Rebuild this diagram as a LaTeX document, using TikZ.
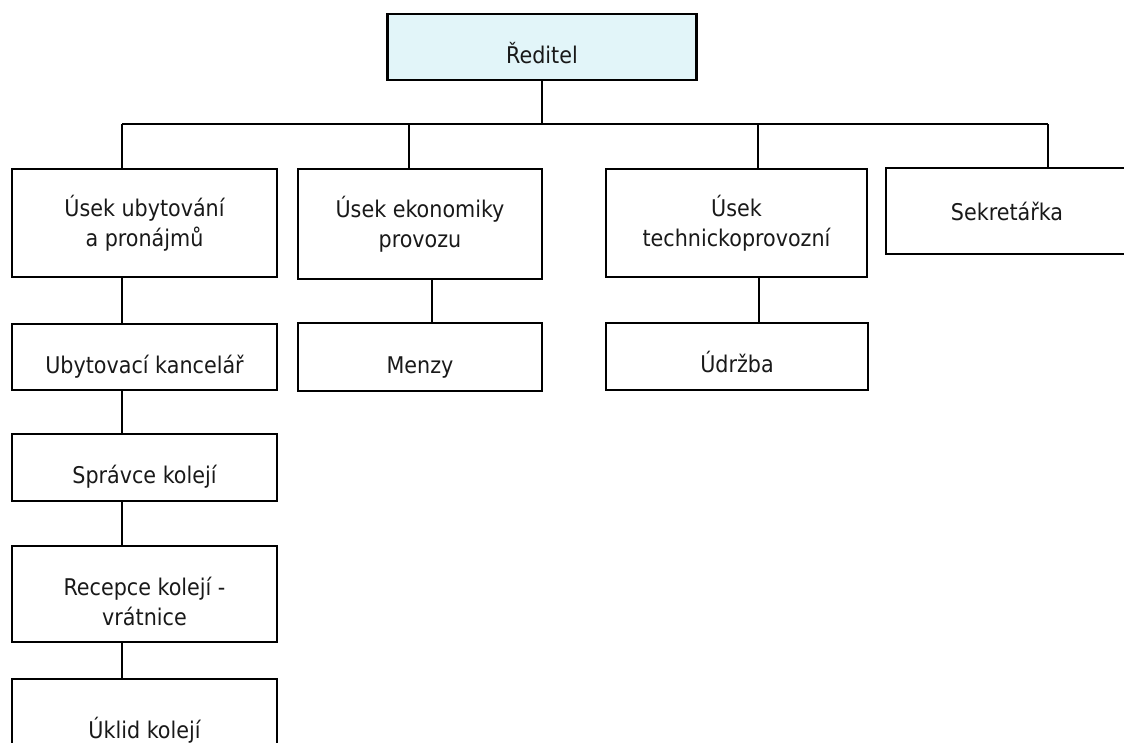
\documentclass[tikz,border=0pt]{standalone}
\usepackage{fontspec}
\setmainfont{DejaVu Sans Condensed}
\usepackage{tikz}
\usetikzlibrary{calc}

\definecolor{headfill}{RGB}{226,245,249}

\begin{document}
\begin{tikzpicture}[x=1pt, y=-1pt,
	unit/.style = {draw, line width=2.2pt, align=center, inner sep=0pt,
		font=\fontsize{23}{30}\selectfont, text=black!90},
	oneline/.style = {text height=32pt, text depth=0pt},
	link/.style = {line width=2.2pt}]

\useasboundingbox (0, 0) rectangle (1124, 742);
\clip (0, 0) rectangle (1124, 742);

\node[unit, oneline, fill=headfill, minimum width=309pt, minimum height=66pt]
	(dir) at (542, 47) {Ředitel};

\node[unit, minimum width=265pt, minimum height=108pt]
	(ubyt) at (144.5, 223) {Úsek ubytování\\a pronájmů};
\node[unit, minimum width=244pt, minimum height=110pt]
	(ekon) at (420, 224) {Úsek ekonomiky\\provozu};
\node[unit, minimum width=261pt, minimum height=108pt]
	(tech) at (736.5, 223) {Úsek\\technickoprovozní};
\node[unit, minimum width=242pt, minimum height=86pt]
	(sekr) at (1007, 211) {Sekretářka};

\node[unit, oneline, minimum width=265pt, minimum height=66pt]
	(kanc) at (144.5, 357) {Ubytovací kancelář};
\node[unit, oneline, minimum width=244pt, minimum height=68pt]
	(menzy) at (420, 357) {Menzy};
\node[unit, oneline, minimum width=262pt, minimum height=67pt]
	(udrz) at (737, 356.5) {Údržba};

\node[unit, oneline, minimum width=265pt, minimum height=67pt]
	(sprav) at (144.5, 467.5) {Správce kolejí};
\node[unit, minimum width=265pt, minimum height=96pt]
	(recep) at (144.5, 594)
	{\raisebox{-17pt}[0pt][0pt]{\begin{tabular}{@{}c@{}}Recepce kolejí -\\vrátnice\end{tabular}}};
\node[unit, minimum width=265pt, minimum height=102pt]
	(uklid) at (144.5, 730) {Úklid kolejí};

\coordinate (b1) at (122, 124);
\coordinate (b2) at (409, 124);
\coordinate (b3) at (758, 124);
\coordinate (b4) at (1048, 124);
\coordinate (c2) at (432, 0);
\coordinate (c3) at (759, 0);

\draw[link] (dir.south) -- (dir.south |- b1);
\draw[link] (b1) -- (b4);

\draw[link] (b1) -- (b1 |- ubyt.north);
\draw[link] (b2) -- (b2 |- ekon.north);
\draw[link] (b3) -- (b3 |- tech.north);
\draw[link] (b4) -- (b4 |- sekr.north);

\draw[link] (ubyt.south -| b1) -- (kanc.north -| b1);
\draw[link] (kanc.south -| b1) -- (sprav.north -| b1);
\draw[link] (sprav.south -| b1) -- (recep.north -| b1);
\draw[link] (recep.south -| b1) -- (uklid.north -| b1);

\draw[link] (ekon.south -| c2) -- (menzy.north -| c2);
\draw[link] (tech.south -| c3) -- (udrz.north -| c3);

\end{tikzpicture}
\end{document}
